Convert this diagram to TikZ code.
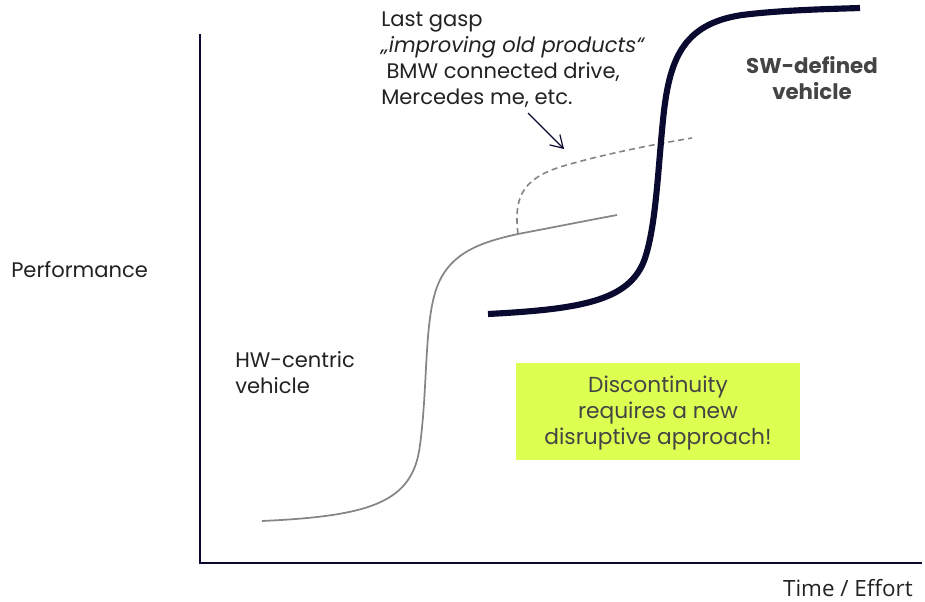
\documentclass[tikz,border=0pt]{standalone}
\usepackage{fontspec}
\setmainfont{Poppins}
\newfontfamily\axisfont{Open Sans}
\usetikzlibrary{arrows.meta}
\definecolor{navy}{HTML}{0A0A30}
\definecolor{curvegray}{HTML}{858585}
\definecolor{txt}{HTML}{222222}
\definecolor{boldgray}{HTML}{444444}
\definecolor{lime}{HTML}{DCFF52}
\tikzset{
  lbl/.style={inner sep=0pt, text=txt, font=\fontsize{15.8}{19.5}\selectfont},
  axisline/.style={draw=navy, line width=1.9pt},
  oldcurve/.style={draw=curvegray, line width=1.3pt},
  newcurve/.style={draw=navy, line width=4.6pt},
}
\begin{document}
\begin{tikzpicture}[x=0.75pt,y=-0.75pt]
\useasboundingbox (0,0) rectangle (925,602);
% axes
\coordinate (ytop) at (200,34);
\coordinate (origin) at (200,563);
\coordinate (xend) at (922,563);
\draw[axisline] (ytop) -- (origin) -- (xend);
% labels
\node[lbl, anchor=west] (perf) at (11,270) {Performance};
\node[lbl, anchor=base east, font=\axisfont\fontsize{16.8}{20}\selectfont] (time) at (913,596) {Time / Effort};
\node[lbl, anchor=north west, align=left] (hw) at (235,351) {HW-centric\\vehicle};
\node[lbl, anchor=north, align=center, text=boldgray, font=\bfseries\fontsize{16}{19.5}\selectfont] (sw) at (812,56) {SW-defined\\vehicle};
\node[lbl, anchor=north west, align=left] (gasp) at (381,12) {Last gasp\\\itshape „improving old products“\\\hspace{0.25em}BMW connected drive,\\Mercedes me, etc.};
% box
\fill[lime] (516,363) rectangle (800,460);
\node[inner sep=0pt, text=boldgray, align=center, font=\fontsize{16.3}{19.5}\selectfont] (box) at (658,413) {Discontinuity\\requires a new\\disruptive approach!};
% curves
\coordinate (o0) at (262,521);
\coordinate (o1) at (617,215);
\coordinate (branch) at (518,234);
\coordinate (d1) at (692,138);
\draw[oldcurve] (o0) .. controls (372,516) and (413,502) .. (420,445)
  .. controls (428,385) and (424,322) .. (437,287)
  .. controls (450,252) and (482,242) .. (518,234)
  .. controls (560,226) and (590,220) .. (o1);
\draw[oldcurve, line width=1.2pt, dash pattern=on 4.5pt off 3pt] (branch) .. controls (514,200) and (520,180) .. (560,167)
  .. controls (600,155) and (650,145) .. (d1);
\coordinate (n0) at (488,314);
\coordinate (n1) at (860,8);
\draw[newcurve] (n0) .. controls (585,309) and (633,300) .. (646,255)
  .. controls (656,222) and (658,170) .. (663,120)
  .. controls (669,60) and (682,24) .. (742,15)
  .. controls (782,10) and (830,9) .. (n1);
% arrow
\coordinate (a0) at (528,113);
\coordinate (a1) at (564,149);
\draw[navy, line width=0.9pt, -{Straight Barb[length=9pt,width=11pt]}] (a0) -- (a1);
\end{tikzpicture}
\end{document}
